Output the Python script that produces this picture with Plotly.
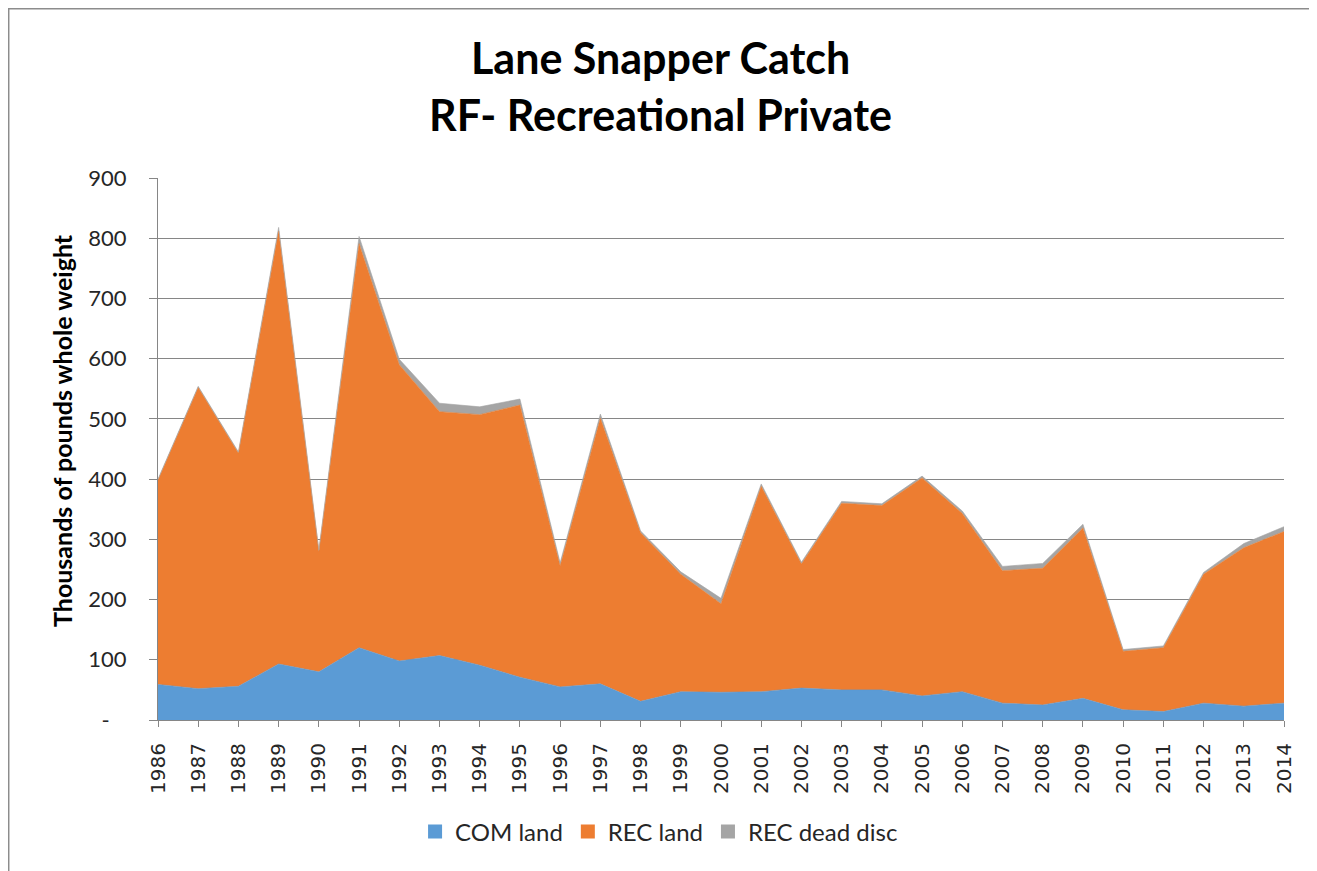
import plotly.graph_objects as go

years = list(range(1986, 2015))
com_land = [59, 52, 56, 93, 80, 120, 98, 107, 91, 71, 55, 60, 31, 47, 46, 47, 53, 50, 50, 40,
            47, 28, 25, 36, 17, 14, 28, 23, 28]
rec_land = [339, 500, 387, 719, 200, 671, 492, 405, 416, 452, 201, 441, 280, 195, 147, 341, 206,
            310, 306, 362, 296, 220, 227, 283, 97, 106, 214, 263, 285]
rec_dead_disc = [2, 2, 2, 6, 2, 12, 9, 14, 13, 10, 5, 7, 3, 4, 9, 4, 3, 3, 3, 3, 4, 7, 8, 6, 3, 3,
                 3, 7, 8]
y_ticks = [0, 100, 200, 300, 400, 500, 600, 700, 800, 900]
y_tick_labels = ["-\u00a0\u00a0\u00a0", "100", "200", "300", "400", "500", "600", "700", "800", "900"]
title_lines = ["Lane Snapper Catch", "RF- Recreational Private"]
y_title = "Thousands of pounds whole weight"

series = [("COM land", com_land, "#5B9BD5"),
          ("REC land", rec_land, "#ED7D31"),
          ("REC dead disc", rec_dead_disc, "#A5A5A5")]

fig = go.Figure()
for name, vals, col in series:
    fig.add_trace(go.Scatter(x=years, y=vals, name=name, mode="lines",
                             stackgroup="one", line=dict(color=col, width=0.6),
                             fillcolor=col, showlegend=False))
# legend entries (square swatches)
for name, vals, col in series:
    fig.add_trace(go.Scatter(x=[None], y=[None], name=name, mode="markers",
                             marker=dict(symbol="square", size=14, color=col),
                             showlegend=True))

lato = "Lato, Open Sans, sans-serif"
txt = "#262626"

annotations = [
    dict(text="<b>%s</b>" % title_lines[0], xref="paper", yref="paper", x=0.446, y=1.2232,
         xanchor="center", yanchor="middle", showarrow=False,
         font=dict(family=lato, size=43, color="black")),
    dict(text="<b>%s</b>" % title_lines[1], xref="paper", yref="paper", x=0.446, y=1.118,
         xanchor="center", yanchor="middle", showarrow=False,
         font=dict(family=lato, size=43, color="black")),
    dict(text="<b>%s</b>" % y_title, xref="paper", yref="paper", x=-0.0853, y=0.535,
         xanchor="center", yanchor="middle", textangle=-90, showarrow=False,
         font=dict(family=lato, size=25, color="black")),
]

fig.update_layout(
    width=1317, height=871,
    margin=dict(l=150, r=41, t=170, b=159),
    paper_bgcolor="white", plot_bgcolor="white",
    font=dict(family=lato, color=txt),
    showlegend=True,
    legend=dict(orientation="h", x=0.445, xanchor="center", y=-0.2066, yanchor="middle",
                font=dict(size=24, family=lato, color=txt), traceorder="normal",
                bgcolor="rgba(0,0,0,0)"),
    xaxis=dict(range=[1986, 2014], tickmode="array", tickvals=years,
               ticktext=[str(y) for y in years], tickangle=-90,
               tickfont=dict(size=20, family="DejaVu Sans", color=txt),
               showgrid=False, zeroline=False, showline=True, linecolor="#868686",
               ticks="outside", ticklen=6, tickcolor="#868686", ticklabelstandoff=8),
    yaxis=dict(range=[0, 900], tickmode="array", tickvals=y_ticks, ticktext=y_tick_labels,
               tickfont=dict(size=22, family=lato, color=txt),
               showgrid=True, gridcolor="#868686", gridwidth=1, zeroline=False,
               showline=True, linecolor="#868686", ticks="outside", ticklen=8,
               tickcolor="#868686", ticklabelstandoff=18),
    annotations=annotations,
    shapes=[dict(type="rect", xref="paper", yref="paper", x0=-0.1328, x1=1.0251,
                 y0=-0.31, y1=1.3127, line=dict(color="#8c8c8c", width=2), layer="below")],
)

fig.write_html("out.html")
